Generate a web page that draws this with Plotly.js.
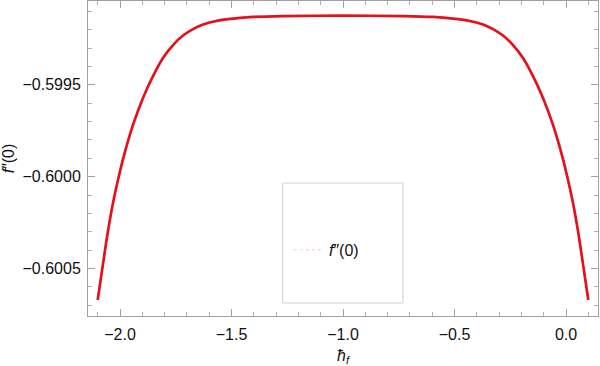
<!DOCTYPE html>
<html>
<head>
<meta charset="utf-8">
<script src="https://cdn.plot.ly/plotly-3.0.1.min.js"></script>
<style>html,body{margin:0;padding:0;background:#fff;}#chart{width:600px;height:366px;}</style>
</head>
<body>
<div id="chart"></div>
<script>
// ħ_f values (x)
const hf = [-2.1, -2.0762, -2.0538, -2.0314, -2.0090, -1.9865, -1.9417, -1.8969, -1.8520, -1.8072, -1.7623, -1.7175, -1.6726, -1.6278, -1.5605, -1.4933, -1.4036, -1.2691, -1.0,
            -0.7309, -0.5964, -0.5067, -0.4395, -0.3722, -0.3274, -0.2825, -0.2377, -0.1928, -0.1480, -0.1031, -0.0583, -0.0135, 0.0090, 0.0314, 0.0538, 0.0762, 0.1];
// f''(0) values (y)
const fpp = [-0.600672, -0.600475, -0.600296, -0.600143, -0.600018, -0.599904, -0.599718, -0.599571, -0.599452, -0.599353, -0.599283, -0.599231, -0.599196, -0.599171, -0.599150, -0.599139, -0.599130, -0.599125, -0.599123,
             -0.599125, -0.599130, -0.599139, -0.599150, -0.599171, -0.599196, -0.599231, -0.599283, -0.599353, -0.599452, -0.599571, -0.599718, -0.599904, -0.600018, -0.600143, -0.600296, -0.600475, -0.600672];
const xTickVals = [-2, -1.5, -1, -0.5, 0];
const xTickText = ["\u22122.0", "\u22121.5", "\u22121.0", "\u22120.5", "0.0"];
const yTickVals = [-0.6005, -0.6, -0.5995];
const yTickText = ["\u22120.6005", "\u22120.6000", "\u22120.5995"];
const seriesName = "<i>f</i>\u2033(0)";
const xTitle = "<i>\u0127</i><sub><i>f</i></sub>";
const yTitle = "<i>f</i>\u2033(0)";

const FONT = "Liberation Sans, Arial, sans-serif";
const traces = [
  {x: hf, y: fpp, type: "scatter", mode: "lines", showlegend: false,
   line: {color: "#e6101a", width: 2.7, shape: "spline", smoothing: 0.8}},
  {x: [null], y: [null], type: "scatter", mode: "lines", name: seriesName,
   line: {color: "rgba(255,90,90,0.35)", width: 1, dash: "dot"}}
];
const axisCommon = {
  showline: true, linecolor: "#a0a0a0", linewidth: 1, mirror: "ticks",
  ticks: "inside", ticklen: 7, tickcolor: "#a0a0a0", tickwidth: 1,
  showgrid: false, zeroline: false, tickmode: "array",
  tickfont: {family: FONT, size: 16, color: "#111"}
};
const layout = {
  width: 600, height: 366,
  margin: {l: 88, r: 2, t: 1, b: 50},
  paper_bgcolor: "#fff", plot_bgcolor: "#fff",
  font: {family: FONT, size: 16, color: "#111"},
  xaxis: Object.assign({}, axisCommon, {
    range: [-2.1435, 0.1435], tickvals: xTickVals, ticktext: xTickText,
    ticklabelstandoff: 4,
    minor: {ticks: "inside", tickmode: "linear", tick0: 0, dtick: 0.1, ticklen: 4, tickcolor: "#b0b0b0"},
    title: {text: xTitle, font: {family: FONT, size: 16, color: "#111"}, standoff: 10}
  }),
  yaxis: Object.assign({}, axisCommon, {
    range: [-0.600759, -0.599043], tickvals: yTickVals, ticktext: yTickText,
    minor: {ticks: "inside", tickmode: "linear", tick0: -0.6, dtick: 0.0001, ticklen: 4, tickcolor: "#b0b0b0"},
    ticklabelstandoff: 3,
    title: {text: yTitle, font: {family: FONT, size: 16, color: "#111"}, standoff: 12}
  }),
  shapes: [
    {type: "rect", xref: "paper", yref: "paper", x0: 0.3818, x1: 0.6176, y0: 0.0413, y1: 0.422,
     line: {color: "#cfcfcf", width: 1}, fillcolor: "rgba(0,0,0,0)"}
  ],
  legend: {x: 0.394, y: 0.21, xanchor: "left", yanchor: "middle", bgcolor: "rgba(0,0,0,0)",
           borderwidth: 0, font: {family: FONT, size: 16, color: "#111"}, itemwidth: 30}
};
Plotly.newPlot("chart", traces, layout, {displayModeBar: false, staticPlot: true});
</script>
</body>
</html>
